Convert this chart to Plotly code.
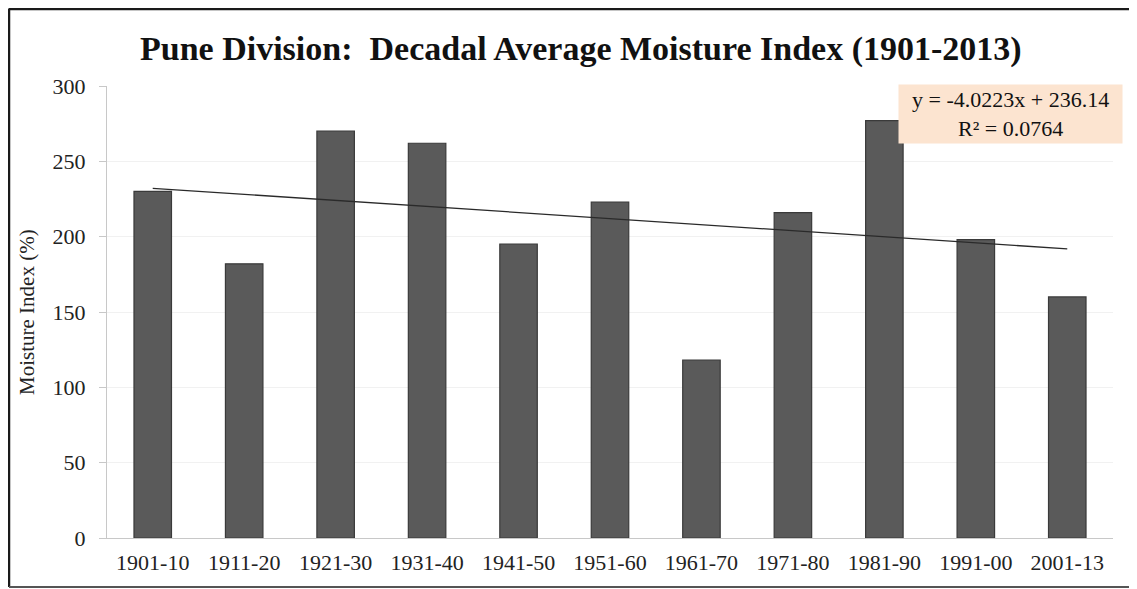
import plotly.graph_objects as go

categories = ["1901-10", "1911-20", "1921-30", "1931-40", "1941-50", "1951-60",
              "1961-70", "1971-80", "1981-90", "1991-00", "2001-13"]
moisture_index = [230, 182, 270, 262, 195, 223, 118, 216, 277, 198, 160]
trend_slope = -4.0223
trend_intercept = 236.14
trend_r2 = 0.0764
y_ticks = [0, 50, 100, 150, 200, 250, 300]

serif = "Liberation Serif, Times New Roman, serif"

W, H = 1129, 581
L, R, T, B = 99, 24, 77.5, 51
PW, PH = W - L - R, H - T - B

def px_x(p):
    return (p - L) / PW

def px_y(p):
    return (H - B - p) / PH

# linear trendline evaluated at the category index (1..n)
trend_x = [categories[0], categories[-1]]
trend_y = [trend_slope * 1 + trend_intercept,
           trend_slope * len(categories) + trend_intercept]

fig = go.Figure()
fig.add_trace(go.Bar(
    x=categories, y=moisture_index,
    marker=dict(color="#5a5a5a", line=dict(color="#3a3a3a", width=1.2)),
    showlegend=False, hoverinfo="x+y",
))
fig.add_trace(go.Scatter(
    x=trend_x, y=trend_y, mode="lines",
    line=dict(color="#2a2a2a", width=1.3),
    showlegend=False, hoverinfo="skip",
))

frame = dict(color="#1a1a1a", width=2.5)
nb = "&nbsp;&nbsp;"

fig.update_layout(
    width=W, height=H,
    margin=dict(l=L, r=R, t=T, b=B),
    paper_bgcolor="white", plot_bgcolor="white",
    bargap=0.59,
    font=dict(family=serif, size=20, color="#333333"),
    title=dict(
        text="<b>Pune Division:  Decadal Average Moisture Index (1901-2013)</b>",
        x=0.471, xref="paper", xanchor="center",
        y=1 - 40 / H, yref="container", yanchor="middle",
        font=dict(family=serif, size=34, color="#111111"),
    ),
    xaxis=dict(
        type="category", range=[-0.5, 10.5],
        showline=True, linecolor="#c8c8c8", linewidth=1,
        ticks="", showgrid=False, ticklabelstandoff=5,
        tickfont=dict(family=serif, size=22, color="#222222"),
    ),
    yaxis=dict(
        range=[0, 300], tickvals=y_ticks, ticktext=[str(t) for t in y_ticks],
        showline=True, linecolor="#c8c8c8", linewidth=1,
        ticks="outside", ticklen=7, tickcolor="#c8c8c8",
        ticklabelstandoff=9,
        showgrid=True, gridcolor="#f1f1f1", gridwidth=1,
        zeroline=False,
        tickfont=dict(family=serif, size=22, color="#222222"),
    ),
    annotations=[
        dict(
            xref="paper", yref="paper",
            x=px_x(19), y=0.5, xanchor="center", yanchor="middle",
            text="Moisture Index (%)", textangle=-90, showarrow=False,
            font=dict(family=serif, size=21, color="#222222"),
        ),
        dict(
            xref="paper", yref="paper",
            x=px_x(1002), y=px_y(106),
            xanchor="center", yanchor="middle",
            text=f"{nb}y = {trend_slope}x + {trend_intercept}{nb}<br>R² = {trend_r2}",
            showarrow=False, align="center",
            bgcolor="#fce4d0", borderpad=2,
            font=dict(family=serif, size=22, color="#111111"),
        ),
    ],
    shapes=[
        dict(type="line", xref="paper", yref="paper", layer="above",
             x0=px_x(1), x1=px_x(W + 20), y0=px_y(0.5), y1=px_y(0.5), line=frame),
        dict(type="line", xref="paper", yref="paper", layer="above",
             x0=px_x(1), x1=px_x(1), y0=px_y(0), y1=px_y(579), line=frame),
        dict(type="line", xref="paper", yref="paper", layer="above",
             x0=px_x(1), x1=px_x(W + 20), y0=px_y(579), y1=px_y(579),
             line=dict(color="#555555", width=2)),
    ],
)

fig.write_html("out.html", post_script="document.body.style.overflow='hidden';")
